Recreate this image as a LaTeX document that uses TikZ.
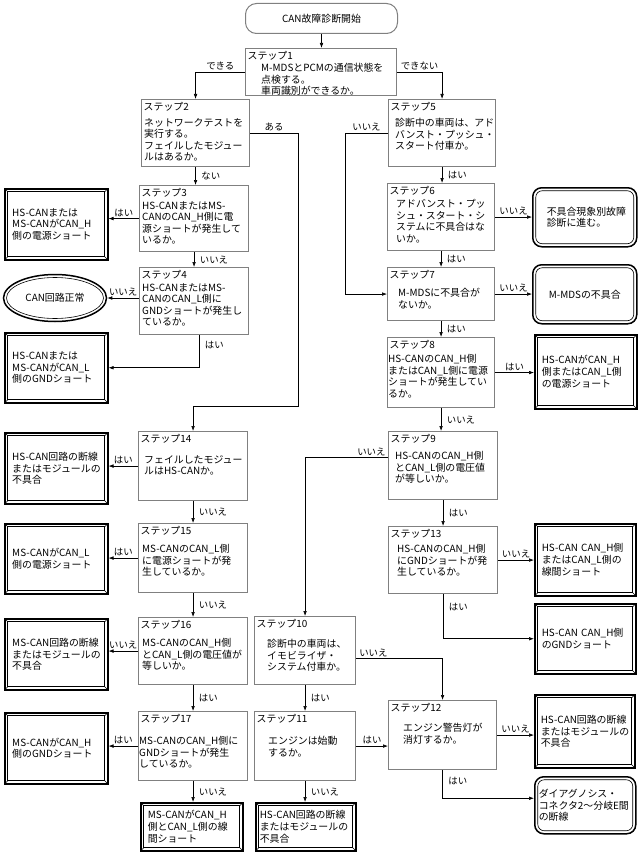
\documentclass[tikz,border=0pt]{standalone}
\usepackage{fontspec}
\setmainfont{Noto Sans CJK JP}
\usetikzlibrary{arrows.meta,shapes.geometric,calc}
\definecolor{framegray}{gray}{0.5}
\newcommand{\jfont}{\fontsize{9.9}{11.6}\selectfont}

\tikzset{
  flow/.style={draw=black,line width=0.6pt,-{Latex[length=5pt,width=3.6pt]}},
  yn/.style={font=\fontsize{9.4}{11}\selectfont,inner sep=1.5pt},
  startbox/.style={draw=framegray,line width=1pt,rounded corners=11pt,anchor=north west,
    minimum width=152,minimum height=30,inner sep=0pt,font=\jfont},
  stepframe/.style={draw=framegray,line width=1.1pt,anchor=north west,inner sep=0pt},
  steptitle/.style={anchor=north west,inner sep=0pt,font=\jfont},
  stepbody/.style={anchor=north west,inner sep=0pt,align=left,text width=150pt,font=\jfont},
  resbox/.style={draw=black,line width=1.5pt,anchor=north west,inner sep=0pt,align=left,font=\jfont,
    path picture={
      \draw[line width=0.6pt,sharp corners] ([shift={(3pt,-3pt)}]path picture bounding box.north west)
        rectangle ([shift={(-3pt,3pt)}]path picture bounding box.south east);
      \draw[line width=0.5pt,sharp corners] (path picture bounding box.north west) -- ++(3pt,-3pt)
        (path picture bounding box.north east) -- ++(-3pt,-3pt)
        (path picture bounding box.south west) -- ++(3pt,3pt)
        (path picture bounding box.south east) -- ++(-3pt,3pt);}},
  resround/.style={draw=black,line width=1.5pt,rounded corners=9pt,anchor=north west,inner sep=0pt,font=\jfont,
    path picture={
      \draw[line width=0.6pt,rounded corners=6.5pt] ([shift={(3pt,-3pt)}]path picture bounding box.north west)
        rectangle ([shift={(-3pt,3pt)}]path picture bounding box.south east);}},
  okoval/.style={ellipse,draw=black,line width=1.5pt,minimum width=103,minimum height=47,inner sep=0pt,font=\jfont,
    path picture={\draw[line width=0.6pt] (path picture bounding box.center) ellipse (48.5pt and 20.5pt);}},
}

\begin{document}
\begin{tikzpicture}[x=1pt,y=-1pt]
	\fill[white] (0,0) rectangle (640,856);
	\useasboundingbox (0,0) rectangle (640,856);
	\node[startbox] (st) at (245,3) {CAN故障診断開始};
	% step boxes
	\foreach \n/\x/\y/\w/\h in {s1/245/48/151/47, s2/141/99/108/67, s5/388/99/107/67, s3/139/185/109/66,
		s4/139/267/109/67, s6/387/183/107/67, s7/387/267/107/53, s8/387/337/107/70, s9/388/431/109/68,
		s13/388/526/109/67, s14/138/431/109/69, s15/138/523/109/69, s16/138/617/109/67, s17/138/711/109/69,
		s10/254/616/101/68, s11/254/711/101/69, s12/388/700/108/69}
		\node[stepframe,minimum width=\w,minimum height=\h] (\n) at (\x,\y) {};
	\foreach \stepno in {1,...,17}
		\node[steptitle] (s\stepno-ttl) at ([shift={(2.5,3.5)}]s\stepno.north west) {ステップ\stepno};
	\foreach \n/\dx/\dy/\txt in {
		s1/16/15/{M-MDSとPCMの通信状態を\\点検する。\\車両識別ができるか。},
		s2/3/19/{ネットワークテストを\\実行する。\\フェイルしたモジュー\\ルはあるか。},
		s5/7/19/{診断中の車両は、アド\\バンスト・プッシュ・\\スタート付車か。},
		s3/3/16/{HS-CANまたはMS-\\CANのCAN\_H側に電\\源ショートが発生して\\いるか。},
		s4/3/16/{HS-CANまたはMS-\\CANのCAN\_L側に\\GNDショートが発生し\\ているか。},
		s6/9/16/{アドバンスト・プッ\\シュ・スタート・シ\\ステムに不具合はな\\いか。},
		s7/11/21/{M-MDSに不具合が\\ないか。},
		s8/1/17/{HS-CANのCAN\_H側\\またはCAN\_L側に電源\\ショートが発生してい\\るか。},
		s9/7/20/{HS-CANのCAN\_H側\\とCAN\_L側の電圧値\\が等しいか。},
		s13/9/18/{HS-CANのCAN\_H側\\にGNDショートが発\\生しているか。},
		s14/6/24/{フェイルしたモジュー\\ルはHS-CANか。},
		s15/4/21/{MS-CANのCAN\_L側\\に電源ショートが発\\生しているか。},
		s16/4/21/{MS-CANのCAN\_H側\\とCAN\_L側の電圧値が\\等しいか。},
		s17/1/25/{MS-CANのCAN\_H側に\\GNDショートが発生\\しているか。},
		s10/13/23/{診断中の車両は、\\イモビライザ・\\システム付車か。},
		s11/14/25/{エンジンは始動\\するか。},
		s12/15/23/{エンジン警告灯が\\消灯するか。}}
		\node[stepbody] (\n-body) at ([shift={(\dx,\dy)}]\n.north west) {\txt};
	% results
	\foreach \n/\x/\y/\w/\h/\tw/\txt in {
		r3/4/188/103/71/88pt/{HS-CANまたは\\MS-CANがCAN\_H\\側の電源ショート},
		r4/4/332/103/70/88pt/{HS-CANまたは\\MS-CANがCAN\_L\\側のGNDショート},
		r8/534/334/102/74/88pt/{HS-CANがCAN\_H\\側またはCAN\_L側\\の電源ショート},
		r14/4/432/103/71/88pt/{HS-CAN回路の断線\\またはモジュールの\\不具合},
		r15/4/523/103/70/88pt/{MS-CANがCAN\_L\\側の電源ショート},
		r16/4/618/103/71/88pt/{MS-CAN回路の断線\\またはモジュールの\\不具合},
		r17/4/712/103/71/88pt/{MS-CANがCAN\_H\\側のGNDショート},
		r17b/140/802/102/48/88pt/{MS-CANがCAN\_H\\側とCAN\_L側の線\\間ショート},
		r11/255/802/100/48/92pt/{HS-CAN回路の断線\\またはモジュールの\\不具合},
		r13a/534/523/101/72/87pt/{HS-CAN CAN\_H側\\またはCAN\_L側の\\線間ショート},
		r13b/534/603/101/70/87pt/{HS-CAN CAN\_H側\\のGNDショート},
		r12a/534/694/100/73/88pt/{HS-CAN回路の断線\\またはモジュールの\\不具合}}
		\node[resbox,minimum width=\w,minimum height=\h,text width=\tw] (\n) at (\x,\y) {\txt};
	\node[resround,minimum width=104,minimum height=59,text width=76pt,align=left] (r6) at (532,187) {不具合現象別故障\\診断に進む。};
	\node[resround,minimum width=104,minimum height=59,align=center] (r7) at (532,264) {M-MDSの不具合};
	\node[resround,minimum width=101,minimum height=57,text width=93pt,align=left] (r12b) at (534,776) {ダイアグノシス・\\コネクタ2～分岐E間\\の断線};
	\node[okoval] (ok) at (55,298) {CAN回路正常};
	% connectors
	\draw[flow] (st.south) -- (st.south |- s1.north);
	\draw[flow] (s1.west) -| node[yn,pos=0.25,above]{できる} (s2.north);
	\draw[flow] (s1.east) -| node[yn,pos=0.25,above]{できない} (s5.north);
	\draw[flow] (s2.south) -- node[yn,right=4pt]{ない} (s2.south |- s3.north);
	\coordinate (k1) at (298,406);
	\draw[flow] (s2.east) -| node[yn,pos=0.25,above]{ある} (k1) -| (s14.north);
	\draw[flow] (s5.west) -- node[yn,midway,above]{いいえ} ++(-43,0) |- (s7.west);
	\draw[flow] (s3.west) -- node[yn,above]{はい} (s3.west -| r3.east);
	\draw[flow] (s3.south) -- node[yn,right=4pt]{いいえ} (s3.south |- s4.north);
	\draw[flow] (ok.east -| s4.west) -- node[yn,above]{いいえ} (ok.east);
	\draw[flow] ([xshift=5pt]s4.south) |- node[yn,pos=0.15,right=4pt]{はい} (r4.east);
	\foreach \a/\b/\l in {s5/s6/はい, s6/s7/はい, s7/s8/はい, s8/s9/いいえ, s9/s13/はい,
		s14/s15/いいえ, s15/s16/いいえ, s16/s17/はい, s17/r17b/いいえ, s10/s11/はい, s11/r11/いいえ}
		\draw[flow] (\a.south) -- node[yn,right=4pt]{\l} (\a.south |- \b.north);
	\foreach \a/\b/\l in {s6/r6/いいえ, s7/r7/いいえ, s8/r8/はい, s13/r13a/いいえ, s11/s12/はい, s12/r12a/いいえ}
		\draw[flow] (\a.east) -- node[yn,above]{\l} (\a.east -| \b.west);
	\foreach \a/\b/\l in {s14/r14/はい, s15/r15/はい, s16/r16/いいえ, s17/r17/はい}
		\draw[flow] (\a.west) -- node[yn,above]{\l} (\a.west -| \b.east);
	\draw[flow] ([yshift=8pt]s9.west) -| node[yn,pos=0.1,above]{いいえ} (s10.north);
	\draw[flow] ([yshift=-8pt]s10.east) -| node[yn,pos=0.1,above]{いいえ} (s12.north);
	\draw[flow] (s13.south) |- node[yn,pos=0.15,right=4pt]{はい} (r13b.west);
	\draw[flow] (s12.south) |- node[yn,pos=0.2,right=4pt]{はい} ([yshift=7pt]r12b.west);
\end{tikzpicture}
\end{document}
